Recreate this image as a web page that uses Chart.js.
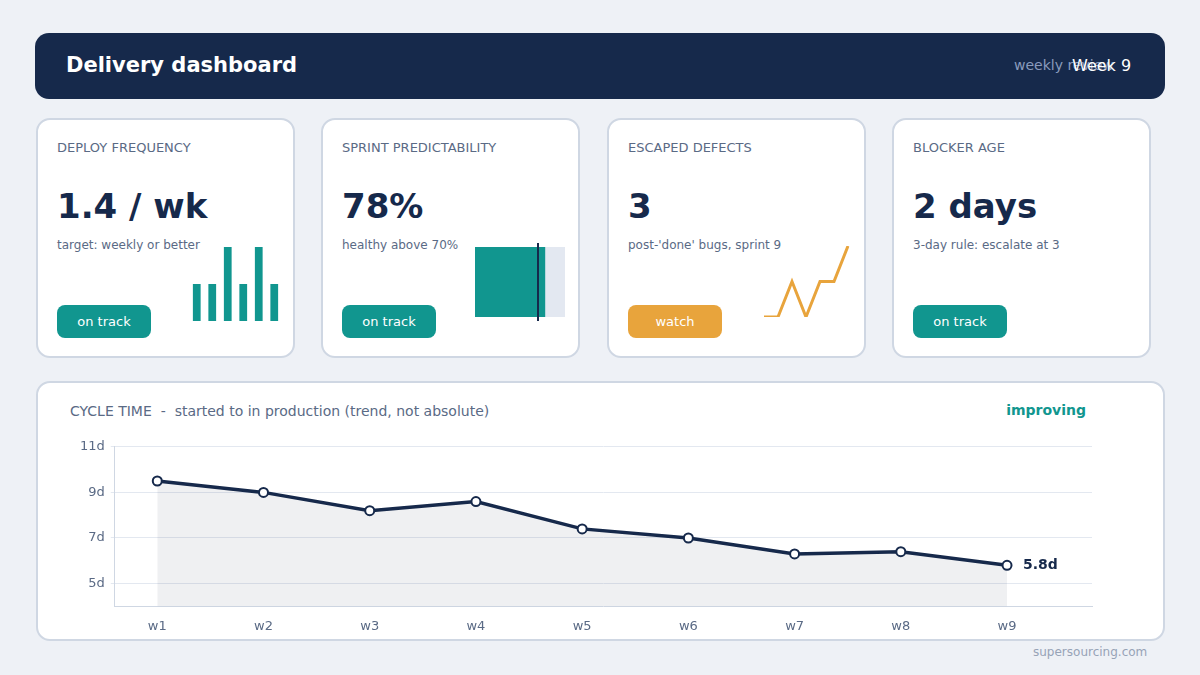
<!DOCTYPE html>
<html>
<head>
<meta charset="utf-8">
<script src="https://cdn.jsdelivr.net/npm/chart.js@4"></script>
<style>
body { margin:0; width:1200px; height:675px; background:#eef1f6; font-family:"DejaVu Sans", sans-serif; position:relative; overflow:hidden; }
.header { position:absolute; left:35px; top:33px; width:1130px; height:66px; background:#16294b; border-radius:14px; }
.header .title { position:absolute; left:31px; top:20px; color:#fff; font-weight:bold; font-size:21px; }
.header .sub { position:absolute; left:979px; top:24px; color:#8a9bbd; font-size:14px; }
.header .week { position:absolute; left:1037px; top:23px; color:#fff; font-size:16px; }
.card { position:absolute; top:118px; width:259px; height:240px; background:#fff; border:2px solid #cfd7e3; border-radius:14px; box-sizing:border-box; }
.card .lbl { position:absolute; left:19px; top:20px; font-size:13px; color:#5a6a85; }
.card .big { position:absolute; left:19px; top:66px; font-size:34px; font-weight:bold; color:#16294b; }
.card .note { position:absolute; left:19px; top:118px; font-size:12px; color:#5a6a85; }
.pill { position:absolute; left:19px; top:185px; width:94px; height:33px; border-radius:8px; color:#fff; font-size:13px; text-align:center; line-height:33px; }
.panel { position:absolute; left:36px; top:381px; width:1129px; height:260px; background:#fff; border:2px solid #cfd7e3; border-radius:14px; box-sizing:border-box; }
.panel .lbl { position:absolute; left:32px; top:20px; font-size:14px; color:#5a6a85; }
.panel .tag { position:absolute; right:77px; top:19px; font-size:14px; font-weight:bold; color:#11968f; }
.foot { position:absolute; left:1033px; top:645px; font-size:12px; color:#97a3b6; }
canvas { position:absolute; }
</style>
</head>
<body>
<div class="header"><div class="title">Delivery dashboard</div><div class="sub">weekly review</div><div class="week">Week 9</div></div>

<div class="card" style="left:36px"><div class="lbl">DEPLOY FREQUENCY</div><div class="big">1.4 / wk</div><div class="note">target: weekly or better</div><div class="pill" style="background:#11968f">on track</div></div>
<div class="card" style="left:321px"><div class="lbl">SPRINT PREDICTABILITY</div><div class="big">78%</div><div class="note">healthy above 70%</div><div class="pill" style="background:#11968f">on track</div></div>
<div class="card" style="left:607px"><div class="lbl">ESCAPED DEFECTS</div><div class="big">3</div><div class="note">post-'done' bugs, sprint 9</div><div class="pill" style="background:#e8a43c">watch</div></div>
<div class="card" style="left:892px"><div class="lbl">BLOCKER AGE</div><div class="big">2 days</div><div class="note">3-day rule: escalate at 3</div><div class="pill" style="background:#11968f">on track</div></div>

<div class="panel"><div class="lbl">CYCLE TIME &nbsp;-&nbsp; started to in production (trend, not absolute)</div><div class="tag">improving</div></div>
<div class="foot">supersourcing.com</div>

<canvas id="deployChart" style="left:189px;top:247px;width:93px;height:74px"></canvas>
<canvas id="predChart" style="left:475px;top:243px;width:90px;height:78px"></canvas>
<canvas id="defectChart" style="left:760px;top:242px;width:92px;height:79px"></canvas>
<canvas id="cycleChart" style="left:74px;top:433px;width:1036px;height:205px"></canvas>

<script>
// Data
const deployWeeks = [1, 2, 3, 4, 5, 6];
const deployCounts = [1, 1, 2, 1, 2, 1];
const predictability = 78;
const predictabilityTarget = 70;
const defectSprints = [1, 2, 3, 4, 5, 6, 7];
const defectCounts = [0, 0, 1, 0, 1, 1, 2];
const weeks = ['w1', 'w2', 'w3', 'w4', 'w5', 'w6', 'w7', 'w8', 'w9'];
const cycleDays = [9.5, 9.0, 8.2, 8.6, 7.4, 7.0, 6.3, 6.4, 5.8];
const yTicks = [5, 7, 9, 11];

const TEAL = '#11968f';
const NAVY = '#16294b';
const AMBER = '#e8a43c';
const hidden = { display: false };
Chart.defaults.font.family = '"DejaVu Sans", sans-serif';
Chart.defaults.animation = false;

const fit = (id) => {
    const c = document.getElementById(id);
    c.width = parseInt(c.style.width);
    c.height = parseInt(c.style.height);
    return c;
};

// Deploy frequency mini bars
new Chart(fit('deployChart'), {
    type: 'bar',
    data: { labels: deployWeeks, datasets: [{ data: deployCounts, backgroundColor: TEAL, barPercentage: 0.5, categoryPercentage: 1 }] },
    options: {
        responsive: false, plugins: { legend: hidden, tooltip: { enabled: false } },
        scales: { x: hidden, y: { display: false, min: 0, max: 2 } }
    }
});

// Predictability bullet bar
new Chart(fit('predChart'), {
    type: 'bar',
    data: {
        labels: ['p'],
        datasets: [
            { data: [100], backgroundColor: '#e3e8f1', barPercentage: 1, categoryPercentage: 0.9, order: 2 },
            { data: [predictability], backgroundColor: TEAL, barPercentage: 1, categoryPercentage: 0.9, order: 1 }
        ]
    },
    options: {
        indexAxis: 'y', responsive: false,
        plugins: { legend: hidden, tooltip: { enabled: false } },
        scales: { x: { display: false, min: 0, max: 100 }, y: { display: false, stacked: true } }
    },
    plugins: [{
        id: 'marker',
        afterDatasetsDraw(chart) {
            const x = chart.scales.x.getPixelForValue(predictabilityTarget);
            const ctx = chart.ctx;
            ctx.save();
            ctx.strokeStyle = NAVY;
            ctx.lineWidth = 2;
            ctx.beginPath();
            ctx.moveTo(x, 0);
            ctx.lineTo(x, chart.height);
            ctx.stroke();
            ctx.restore();
        }
    }]
});

// Escaped defects sparkline
new Chart(fit('defectChart'), {
    type: 'line',
    data: { labels: defectSprints, datasets: [{ data: defectCounts, borderColor: AMBER, borderWidth: 3, pointRadius: 0, tension: 0 }] },
    options: {
        responsive: false, layout: { padding: 4 },
        plugins: { legend: hidden, tooltip: { enabled: false } },
        scales: { x: hidden, y: { display: false, min: 0, max: 2 } }
    }
});

// Cycle time trend
new Chart(fit('cycleChart'), {
    type: 'line',
    data: {
        datasets: [{
            data: cycleDays.map((v, i) => ({ x: i + 1, y: v })),
            borderColor: NAVY, borderWidth: 3.5, tension: 0,
            fill: 'start', backgroundColor: 'rgba(22,41,75,0.07)',
            pointRadius: 4.5, pointBorderWidth: 2, pointBackgroundColor: '#fff', pointBorderColor: NAVY
        }]
    },
    options: {
        responsive: false,
        layout: { padding: { right: 18 } },
        plugins: { legend: hidden, tooltip: { enabled: false } },
        scales: {
            x: {
                type: 'linear', min: 0.6, max: 9.8,
                afterBuildTicks: (axis) => { axis.ticks = weeks.map((w, i) => ({ value: i + 1 })); },
                ticks: { callback: (v) => weeks[v - 1], color: '#5a6a85', font: { size: 13 }, padding: 4 },
                grid: { display: false }, border: { color: '#cfd7e3' }
            },
            y: {
                min: 4, max: 11,
                afterBuildTicks: (axis) => { axis.ticks = yTicks.map(v => ({ value: v })); },
                ticks: { callback: (v) => v + 'd', color: '#5a6a85', font: { size: 13 }, padding: 6 },
                grid: { color: '#e3e8f0', drawTicks: true, tickLength: 4 }, border: { color: '#cfd7e3' }
            }
        }
    },
    plugins: [{
        id: 'endLabel',
        afterDatasetsDraw(chart) {
            const last = cycleDays.length - 1;
            const x = chart.scales.x.getPixelForValue(last + 1);
            const y = chart.scales.y.getPixelForValue(cycleDays[last]);
            const ctx = chart.ctx;
            ctx.save();
            ctx.fillStyle = NAVY;
            ctx.font = 'bold 14px "DejaVu Sans", sans-serif';
            ctx.textBaseline = 'middle';
            ctx.fillText(cycleDays[last] + 'd', x + 16, y);
            ctx.restore();
        }
    }]
});
</script>
</body>
</html>
